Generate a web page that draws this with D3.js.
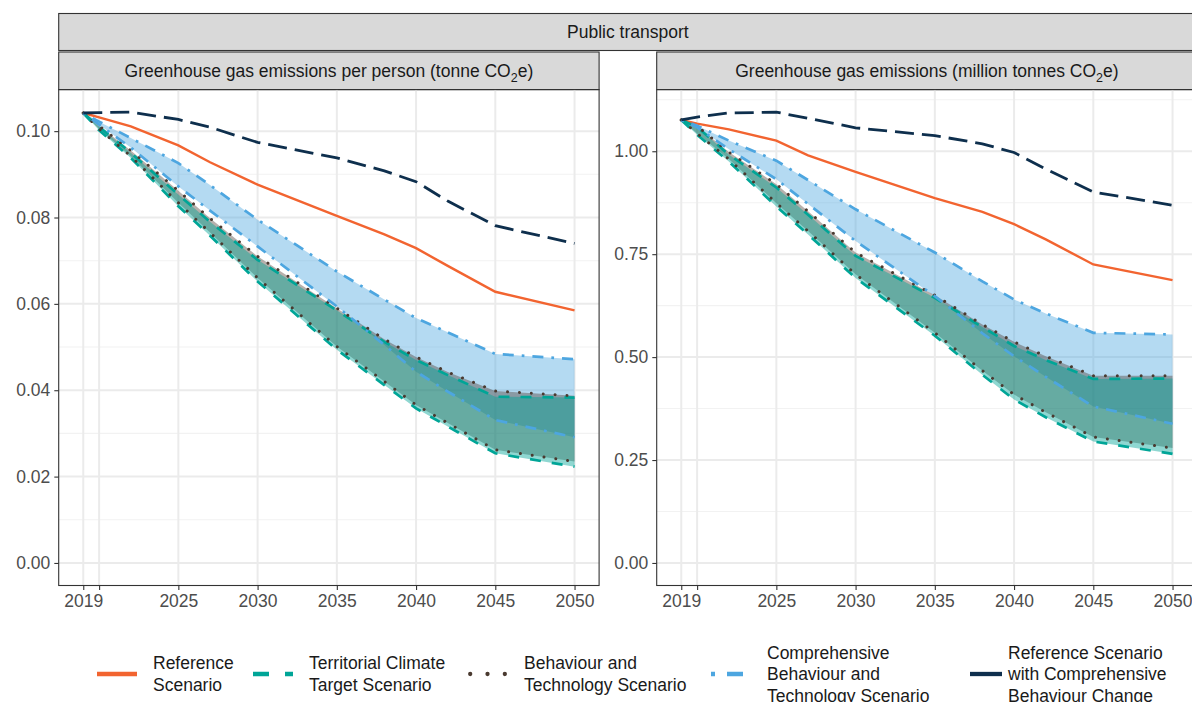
<!DOCTYPE html>
<html>
<head>
<meta charset="utf-8">
<script src="https://cdn.jsdelivr.net/npm/d3@7"></script>
<style>
  body { margin: 0; background: #fff; }
  svg text { font-family: "Liberation Sans", Arial, sans-serif; }
</style>
</head>
<body>
<svg id="chart" width="1192" height="702"></svg>
<script>
// years
var years = [2019, 2020, 2022, 2025, 2027, 2030, 2035, 2038, 2040, 2042, 2045, 2050];

// per person (tonne CO2e)
var personReference = [0.1042, 0.1032, 0.1011, 0.0967, 0.0928, 0.0876, 0.0804, 0.0761, 0.0729, 0.0688, 0.0628, 0.0585];
var personTctHigh = [0.1042, 0.1010, 0.0950, 0.0853, 0.0790, 0.0702, 0.0585, 0.0512, 0.0470, 0.0435, 0.0385, 0.0383];
var personTctLow = [0.1042, 0.1002, 0.0938, 0.0826, 0.0758, 0.0652, 0.0494, 0.0412, 0.0358, 0.0316, 0.0254, 0.0223];
var personBtHigh = [0.1042, 0.1012, 0.0955, 0.0862, 0.0798, 0.0710, 0.0590, 0.0518, 0.0477, 0.0442, 0.0398, 0.0387];
var personBtLow = [0.1042, 0.1005, 0.0942, 0.0834, 0.0765, 0.0660, 0.0501, 0.0420, 0.0366, 0.0324, 0.0262, 0.0235];
var personCbtHigh = [0.1042, 0.1022, 0.0984, 0.0926, 0.0875, 0.0795, 0.0675, 0.0610, 0.0567, 0.0534, 0.0484, 0.0472];
var personCbtLow = [0.1042, 0.1015, 0.0962, 0.0872, 0.0816, 0.0733, 0.0594, 0.0505, 0.0443, 0.0397, 0.0331, 0.0291];
var personRefCbc = [0.1042, 0.1043, 0.1044, 0.1027, 0.1009, 0.0974, 0.0938, 0.0908, 0.0883, 0.0838, 0.0781, 0.0740];

// total (million tonnes CO2e)
var totalReference = [1.076, 1.067, 1.053, 1.026, 0.990, 0.950, 0.886, 0.853, 0.823, 0.786, 0.725, 0.687];
var totalTctHigh = [1.076, 1.059, 0.992, 0.912, 0.846, 0.746, 0.644, 0.573, 0.527, 0.493, 0.447, 0.448];
var totalTctLow = [1.076, 1.040, 0.975, 0.866, 0.798, 0.692, 0.552, 0.457, 0.397, 0.354, 0.295, 0.265];
var totalBtHigh = [1.076, 1.061, 0.998, 0.920, 0.854, 0.754, 0.650, 0.579, 0.537, 0.502, 0.455, 0.455];
var totalBtLow = [1.076, 1.043, 0.981, 0.874, 0.806, 0.701, 0.559, 0.467, 0.409, 0.366, 0.306, 0.279];
var totalCbtHigh = [1.076, 1.062, 1.026, 0.977, 0.930, 0.859, 0.754, 0.684, 0.640, 0.606, 0.559, 0.555];
var totalCbtLow = [1.076, 1.058, 1.005, 0.932, 0.872, 0.782, 0.648, 0.558, 0.502, 0.452, 0.380, 0.338];
var totalRefCbc = [1.076, 1.083, 1.093, 1.095, 1.080, 1.057, 1.038, 1.018, 0.997, 0.957, 0.901, 0.869];

var yearTicks = [2019, 2020, 2025, 2030, 2035, 2040, 2045, 2050];
var yearTickLabels = ["2019", "", "2025", "2030", "2035", "2040", "2045", "2050"];
var personTicks = [0, 0.02, 0.04, 0.06, 0.08, 0.10];
var totalTicks = [0, 0.25, 0.5, 0.75, 1.0];

var outerStrip = "Public transport";
var scenarioLabels = [
  ["Reference", "Scenario"],
  ["Territorial Climate", "Target Scenario"],
  ["Behaviour and", "Technology Scenario"],
  ["Comprehensive", "Behaviour and", "Technology Scenario"],
  ["Reference Scenario", "with Comprehensive", "Behaviour Change"]
];

// styles
var colRef = "#f26430", colTct = "#00a597", colBt = "#4a3a30", colCbt = "#4da6e0", colCbc = "#0e2f4d";
var lw = 2.7;

var svg = d3.select("#chart");
var panelTop = 89.6, panelBottom = 585.5, panelW = 540.4;

function zip(a, b) {
  return years.map(function(yr, i) {
    return { year: yr, lo: a[i], hi: b ? b[i] : a[i] };
  });
}

var panels = [
  {
    left: 58.7,
    title: ["Greenhouse gas emissions per person (tonne CO", "2", "e)"],
    ticks: personTicks,
    ref: personReference, refCbc: personRefCbc,
    tct: [personTctLow, personTctHigh], bt: [personBtLow, personBtHigh], cbt: [personCbtLow, personCbtHigh]
  },
  {
    left: 656.7,
    title: ["Greenhouse gas emissions (million tonnes CO", "2", "e)"],
    ticks: totalTicks,
    ref: totalReference, refCbc: totalRefCbc,
    tct: [totalTctLow, totalTctHigh], bt: [totalBtLow, totalBtHigh], cbt: [totalCbtLow, totalCbtHigh]
  }
];

// outer strip across both panels
svg.append("rect")
  .attr("x", 58.7).attr("y", 13.5)
  .attr("width", 656.7 + panelW - 58.7).attr("height", 37)
  .attr("fill", "#d9d9d9").attr("stroke", "#333").attr("stroke-width", 1.1);
svg.append("text")
  .attr("x", (58.7 + 656.7 + panelW) / 2).attr("y", 38.3)
  .attr("text-anchor", "middle").attr("font-size", 17.5).attr("fill", "#1a1a1a")
  .text(outerStrip);

panels.forEach(function(p) {
  var g = svg.append("g");
  var x = d3.scaleLinear()
    .domain([2019 - 1.55, 2050 + 1.55])
    .range([p.left, p.left + panelW]);
  var allVals = [].concat(p.ref, p.refCbc, p.tct[0], p.tct[1], p.bt[0], p.bt[1], p.cbt[0], p.cbt[1]);
  var ymax = d3.max(allVals);
  var y = d3.scaleLinear()
    .domain([-0.05 * ymax, 1.05 * ymax])
    .range([panelBottom, panelTop]);

  // strip
  g.append("rect")
    .attr("x", p.left).attr("y", 52)
    .attr("width", panelW).attr("height", panelTop - 52)
    .attr("fill", "#d9d9d9").attr("stroke", "#333").attr("stroke-width", 1.1);
  var st = g.append("text")
    .attr("x", p.left + panelW / 2).attr("y", 77)
    .attr("text-anchor", "middle").attr("font-size", 17.5).attr("fill", "#1a1a1a");
  st.append("tspan").text(p.title[0]);
  st.append("tspan").attr("font-size", 12.5).attr("dy", 4.5).text(p.title[1]);
  st.append("tspan").attr("dy", -4.5).text(p.title[2]);

  // grid
  var step = p.ticks[1] - p.ticks[0];
  var minor = p.ticks.map(function(t) { return t + step / 2; })
    .filter(function(t) { return t < y.domain()[1]; });
  g.selectAll(".minor").data(minor).enter().append("line")
    .attr("x1", p.left).attr("x2", p.left + panelW)
    .attr("y1", function(d) { return y(d); }).attr("y2", function(d) { return y(d); })
    .attr("stroke", "#f2f2f2").attr("stroke-width", 1.1);
  g.selectAll(".majory").data(p.ticks).enter().append("line")
    .attr("x1", p.left).attr("x2", p.left + panelW)
    .attr("y1", function(d) { return y(d); }).attr("y2", function(d) { return y(d); })
    .attr("stroke", "#ebebeb").attr("stroke-width", 2);
  g.selectAll(".majorx").data(yearTicks).enter().append("line")
    .attr("y1", panelTop).attr("y2", panelBottom)
    .attr("x1", function(d) { return x(d); }).attr("x2", function(d) { return x(d); })
    .attr("stroke", "#ebebeb").attr("stroke-width", 2);

  // ribbons
  var area = d3.area()
    .x(function(d) { return x(d.year); })
    .y0(function(d) { return y(d.lo); })
    .y1(function(d) { return y(d.hi); });
  [[p.cbt, colCbt, 0.42], [p.bt, colBt, 0.4], [p.tct, colTct, 0.44]].forEach(function(r) {
    g.append("path")
      .attr("d", area(zip(r[0][0], r[0][1])))
      .attr("fill", r[1]).attr("fill-opacity", r[2]);
  });

  // lines
  var line = d3.line()
    .x(function(d) { return x(d.year); })
    .y(function(d) { return y(d.lo); });
  var lines = [
    [p.ref, colRef, null, 2.4, "butt"],
    [p.tct[1], colTct, "11,11", lw, "butt"],
    [p.tct[0], colTct, "11,11", lw, "butt"],
    [p.bt[1], colBt, "0.01,11.9", 3, "round"],
    [p.bt[0], colBt, "0.01,11.9", 3, "round"],
    [p.cbt[1], colCbt, "2.7,8,11,8", lw, "butt"],
    [p.cbt[0], colCbt, "2.7,8,11,8", lw, "butt"],
    [p.refCbc, colCbc, "19,8", 2.8, "butt"]
  ];
  lines.forEach(function(l) {
    g.append("path")
      .attr("d", line(zip(l[0])))
      .attr("fill", "none")
      .attr("stroke", l[1])
      .attr("stroke-width", l[3])
      .attr("stroke-linecap", l[4])
      .attr("stroke-dasharray", l[2]);
  });

  // border
  g.append("rect")
    .attr("x", p.left).attr("y", panelTop)
    .attr("width", panelW).attr("height", panelBottom - panelTop)
    .attr("fill", "none").attr("stroke", "#333").attr("stroke-width", 1.1);

  // axes
  var yAxis = d3.axisLeft(y).tickValues(p.ticks).tickFormat(d3.format(".2f")).tickSize(4.4).tickPadding(4);
  var ya = g.append("g").attr("transform", "translate(" + p.left + ",0)").call(yAxis);
  var xAxis = d3.axisBottom(x).tickValues(yearTicks)
    .tickFormat(function(d, i) { return yearTickLabels[i]; })
    .tickSize(4.4).tickPadding(5);
  var xa = g.append("g").attr("transform", "translate(0," + panelBottom + ")").call(xAxis);
  [ya, xa].forEach(function(a) {
    a.select(".domain").remove();
    a.selectAll(".tick line").attr("stroke", "#333").attr("stroke-width", 1.1);
    a.selectAll(".tick text").attr("fill", "#4d4d4d").attr("font-size", 17.5)
      .attr("font-family", "Liberation Sans, Arial, sans-serif");
  });
});

// legend
var legendKeys = [97, 253, 468, 711, 970];
var legendText = [153, 309, 524, 767, 1008];
var legendStyles = [
  [colRef, null, "butt"],
  [colTct, "16,16", "butt"],
  [colBt, "0.01,17.3", "round"],
  [colCbt, "4,12,16,12", "butt"],
  [colCbc, "32,8", "butt"]
];
var legendY = 674;
scenarioLabels.forEach(function(lab, i) {
  var kx = legendKeys[i];
  svg.append("line")
    .attr("x1", legendStyles[i][2] === "round" ? kx + 2.2 : kx).attr("x2", kx + 40)
    .attr("y1", legendY).attr("y2", legendY)
    .attr("stroke", legendStyles[i][0]).attr("stroke-width", 4.3)
    .attr("stroke-linecap", legendStyles[i][2])
    .attr("stroke-dasharray", legendStyles[i][1]);
  var t = svg.append("text")
    .attr("font-size", 17.5).attr("fill", "#1a1a1a");
  var first = legendY + 6 - (lab.length - 1) * 21.5 / 2;
  lab.forEach(function(s, j) {
    t.append("tspan").attr("x", legendText[i]).attr("y", first + j * 21.5).text(s);
  });
});
</script>
</body>
</html>
